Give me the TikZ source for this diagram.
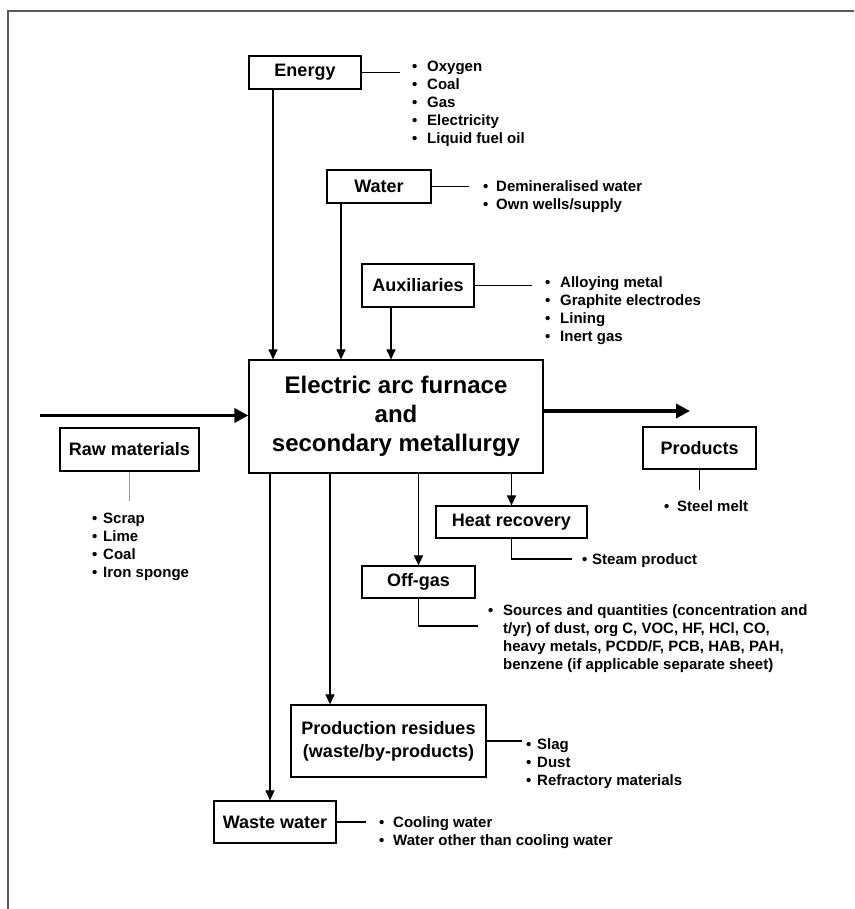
\documentclass[tikz,border=0pt]{standalone}
\usepackage{fontspec}
\setmainfont{Liberation Sans}
\usetikzlibrary{arrows.meta}
\newcommand\bul[1][13pt]{\makebox[#1][l]{•}}
\begin{document}
\begin{tikzpicture}[x=1pt,y=-1pt,
 box/.style={draw, line width=1.2pt, inner sep=0pt, font=\fontsize{18}{23}\selectfont\bfseries, align=center},
 lst/.style={anchor=north west, inner sep=0pt, align=left, font=\fontsize{15}{18}\selectfont\bfseries},
 ln/.style={line width=1.1pt},
 arr/.style={line width=1.1pt, -{Triangle[length=10pt,width=9pt]}},
 bigarr/.style={line width=3.5pt, -{Triangle[length=14pt,width=14pt]}}]
\useasboundingbox (0,0) rectangle (854,909);
\draw[line width=2pt, black!65] (854,11.5) -- (8,11.5) -- (8,909);

% boxes
\node[box, minimum width=112pt, minimum height=33pt] (energy) at (305,72.5) {Energy};
\node[box, minimum width=104pt, minimum height=33pt] (water) at (379,186.5) {Water};
\node[box, minimum width=112pt, minimum height=43pt] (aux) at (418,285.5) {Auxiliaries};
\node[box, minimum width=294pt, minimum height=113pt, font=\fontsize{24}{29}\selectfont\bfseries] (eaf) at (396,416.5) {Electric arc furnace\\and\\secondary metallurgy};
\node[box, minimum width=139pt, minimum height=43pt] (raw) at (129.5,449.5) {Raw materials};
\node[box, minimum width=113pt, minimum height=42pt] (prod) at (699.5,448) {Products};
\node[box, minimum width=151pt, minimum height=32pt] (heat) at (511.5,522) {Heat recovery};
\node[box, minimum width=113pt, minimum height=32pt] (og) at (418.5,582) {Off-gas};
\node[box, minimum width=195pt, minimum height=72pt] (res) at (388.5,741) {Production residues\\(waste/by-products)};
\node[box, minimum width=122pt, minimum height=42pt] (waste) at (275,822) {Waste water};

% column coordinates
\coordinate (c1) at (273,0);
\coordinate (c2) at (341,0);
\coordinate (c3) at (391,0);
\coordinate (c4) at (270,0);
\coordinate (c5) at (330,0);

% inputs
\draw[arr] (energy.south -| c1) -- (eaf.north -| c1);
\draw[arr] (water.south -| c2) -- (eaf.north -| c2);
\draw[arr] (aux.south -| c3) -- (eaf.north -| c3);

% list connectors
\coordinate (el) at (400,72.5);
\coordinate (wl) at (469,186.5);
\coordinate (al) at (532,285.5);
\coordinate (rl) at (129.5,501);
\coordinate (pl) at (699.5,490);
\coordinate (hl) at (572,559);
\coordinate (ol) at (478,626);
\coordinate (sl) at (522,741);
\coordinate (xl) at (366,822);
\draw[ln] (energy.east) -- (el);
\draw[ln] (water.east) -- (wl);
\draw[ln] (aux.east) -- (al);
\draw[line width=1pt, black!40] (raw.south) -- (rl);
\draw[ln] (prod.south) -- (pl);
\draw[ln] (heat.south) |- (hl);
\draw[ln] (og.south) |- (ol);
\draw[ln] (res.east) -- (sl);
\draw[ln] (waste.east) -- (xl);

% main flow
\coordinate (in) at (40,415.5);
\coordinate (out) at (690,411);
\draw[bigarr] (in) -- (eaf.west |- in);
\draw[bigarr] (eaf.east |- out) -- (out);

% outputs
\draw[arr] (eaf.south -| heat.north) -- (heat.north);
\draw[arr] (eaf.south -| og.north) -- (og.north);
\draw[arr] (eaf.south -| c5) -- (res.north -| c5);
\draw[arr] (eaf.south -| c4) -- (waste.north -| c4);

% lists
\node[lst] (elist) at (412,58.8) {\strut\bul[15pt]Oxygen\\\bul[15pt]Coal\\\bul[15pt]Gas\\\bul[15pt]Electricity\\\bul[15pt]Liquid fuel oil};
\node[lst] (wlist) at (483,178.8) {\strut\bul Demineralised water\\\bul Own wells/supply};
\node[lst] (alist) at (545,274.8) {\strut\bul[15pt]Alloying metal\\\bul[15pt]Graphite electrodes\\\bul[15pt]Lining\\\bul[15pt]Inert gas};
\node[lst] (rlist) at (92,510.8) {\strut\bul[11pt]Scrap\\\bul[11pt]Lime\\\bul[11pt]Coal\\\bul[11pt]Iron sponge};
\node[lst] (plist) at (664,498.8) {\strut\bul[13pt]Steel melt};
\node[lst] (hlist) at (582,551.8) {\strut\bul[10pt]Steam product};
\node[lst] (olist) at (488,602.8) {\strut\bul[15pt]Sources and quantities (concentration and\\\hspace*{15pt}t/yr) of dust, org C, VOC, HF, HCl, CO,\\\hspace*{15pt}heavy metals, PCDD/F, PCB, HAB, PAH,\\\hspace*{15pt}benzene (if applicable separate sheet)};
\node[lst] (slist) at (526,736.8) {\strut\bul[11pt]Slag\\\bul[11pt]Dust\\\bul[11pt]Refractory materials};
\node[lst] (xlist) at (379,814.8) {\strut\bul[14pt]Cooling water\\\bul[14pt]Water other than cooling water};
\end{tikzpicture}
\end{document}
